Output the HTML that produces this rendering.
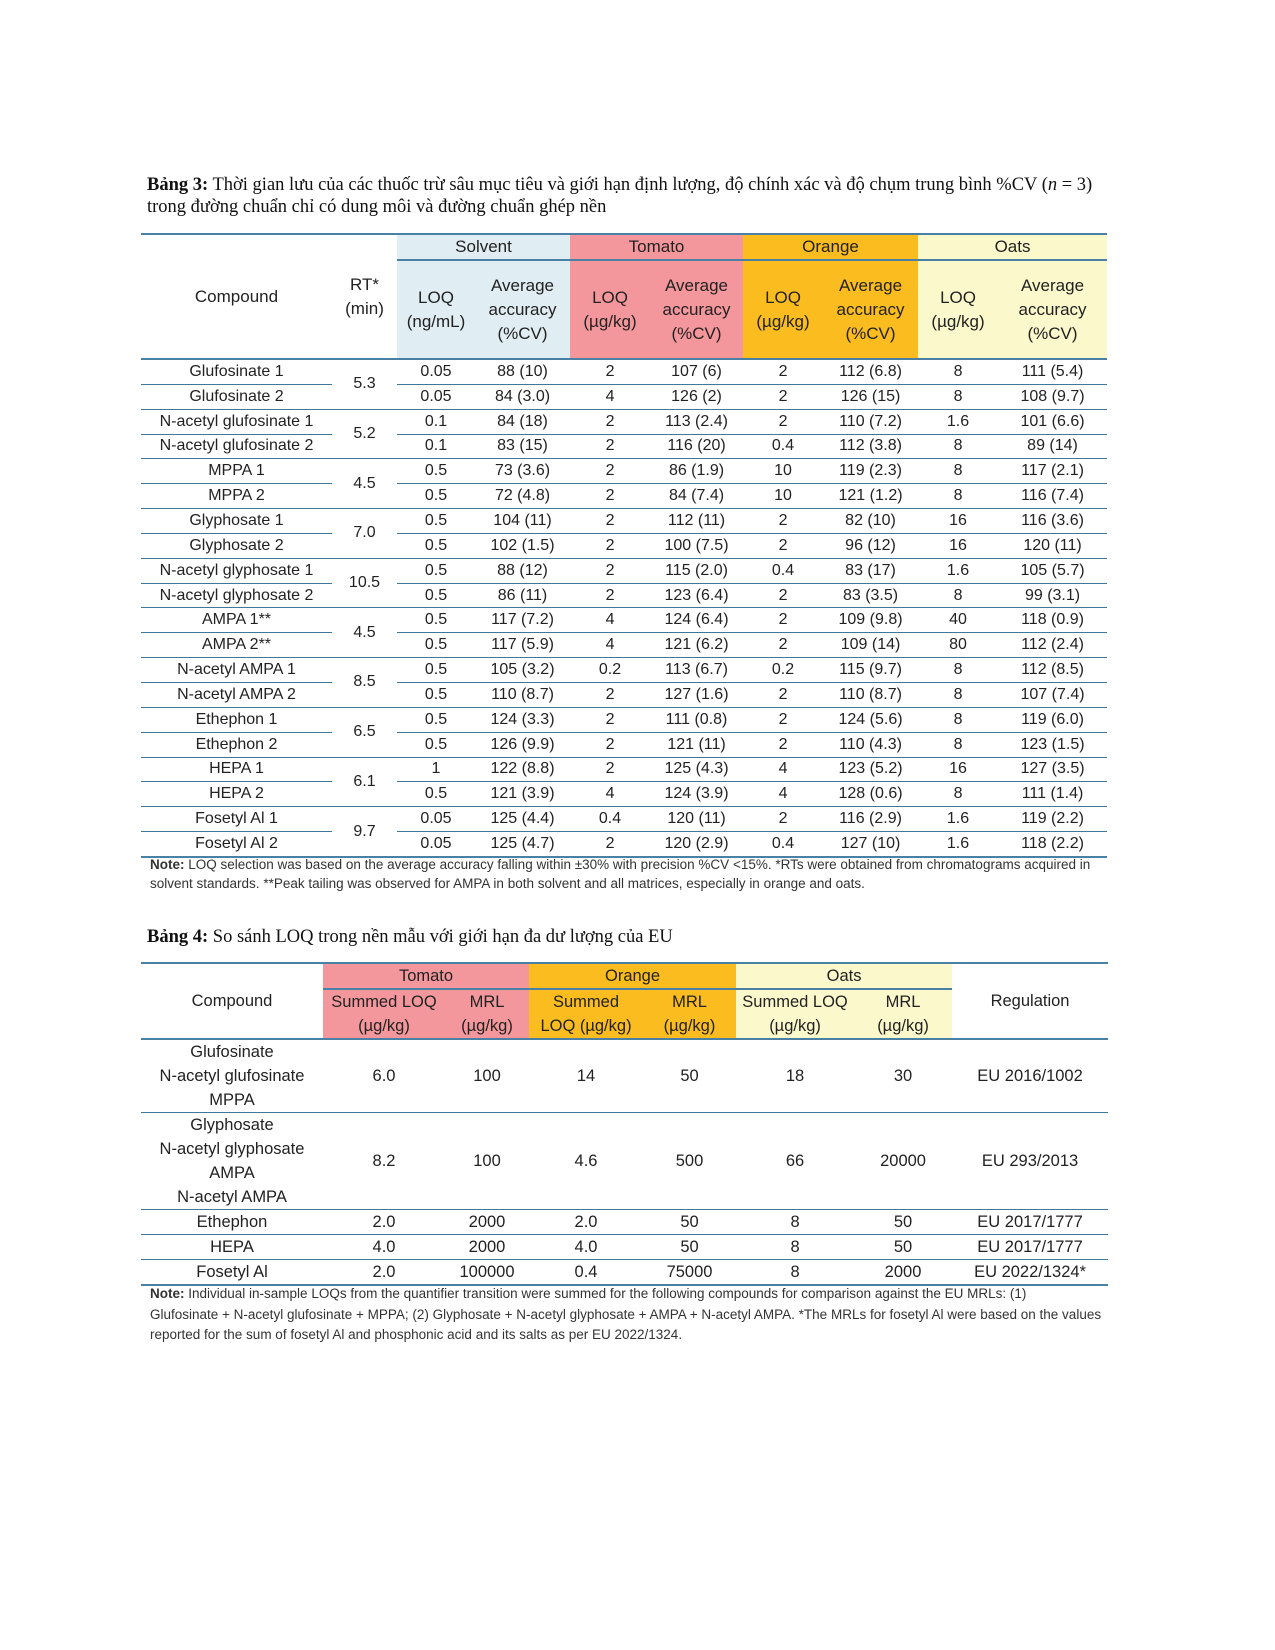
<!DOCTYPE html>
<html><head><meta charset="utf-8">
<style>
body{margin:0;background:#fff;width:1275px;height:1650px;position:relative;font-family:"Liberation Sans",sans-serif;color:#222;}
.cap{position:absolute;left:147px;font-family:"Liberation Serif",serif;font-size:18.5px;line-height:22px;color:#111;}
table{position:absolute;border-collapse:collapse;table-layout:fixed;font-size:16px;}
td{padding:0;text-align:center;vertical-align:middle;white-space:nowrap;overflow:hidden;}
.t3 td{height:23.85px;border-bottom:1px solid #3f7898;line-height:20px;}
.s{background:#e0edf3}.t{background:#f4979c}.o{background:#fbbc1f}.a{background:#fbf8cc}
.top{border-top:2.5px solid #4a80a3}
.note{position:absolute;left:150px;font-size:13.5px;line-height:19px;color:#333;white-space:nowrap;}
.t4 td{border-bottom:1.5px solid #3f7898;line-height:24px;}
</style></head><body>
<div class="cap" style="top:174px"><b>Bảng 3:</b> Thời gian lưu của các thuốc trừ sâu mục tiêu và giới hạn định lượng, độ chính xác và độ chụm trung bình %CV (<i>n</i> = 3)<br>trong đường chuẩn chỉ có dung môi và đường chuẩn ghép nền</div>

<table class="t3" style="left:141px;top:233px;width:966px">
<colgroup><col style="width:191px"><col style="width:65px"><col style="width:78px"><col style="width:95px"><col style="width:80px"><col style="width:93px"><col style="width:80px"><col style="width:95px"><col style="width:80px"><col style="width:109px"></colgroup>
<tr class="top"><td rowspan="2" style="border-bottom:2px solid #4a80a3;font-size:17px">Compound</td><td rowspan="2" style="border-bottom:2px solid #4a80a3;font-size:17px;line-height:24px">RT*<br>(min)</td>
<td colspan="2" class="s" style="height:24px;border-bottom:2.5px solid #4a80a3;font-size:17px">Solvent</td><td colspan="2" class="t" style="border-bottom:2.5px solid #4a80a3;font-size:17px">Tomato</td><td colspan="2" class="o" style="border-bottom:2.5px solid #4a80a3;font-size:17px">Orange</td><td colspan="2" class="a" style="border-bottom:2.5px solid #4a80a3;font-size:17px">Oats</td></tr>
<tr style="font-size:17px;line-height:24px"><td class="s" style="height:97px;border-bottom:2px solid #4a80a3;line-height:24px">LOQ<br>(ng/mL)</td><td class="s" style="border-bottom:2px solid #4a80a3;line-height:24px">Average<br>accuracy<br>(%CV)</td>
<td class="t" style="border-bottom:2px solid #4a80a3;line-height:24px">LOQ<br>(µg/kg)</td><td class="t" style="border-bottom:2px solid #4a80a3;line-height:24px">Average<br>accuracy<br>(%CV)</td>
<td class="o" style="border-bottom:2px solid #4a80a3;line-height:24px">LOQ<br>(µg/kg)</td><td class="o" style="border-bottom:2px solid #4a80a3;line-height:24px">Average<br>accuracy<br>(%CV)</td>
<td class="a" style="border-bottom:2px solid #4a80a3;line-height:24px">LOQ<br>(µg/kg)</td><td class="a" style="border-bottom:2px solid #4a80a3;line-height:24px">Average<br>accuracy<br>(%CV)</td></tr>
<tr><td>Glufosinate 1</td><td rowspan="2">5.3</td><td>0.05</td><td>88 (10)</td><td>2</td><td>107 (6)</td><td>2</td><td>112 (6.8)</td><td>8</td><td>111 (5.4)</td></tr>
<tr><td>Glufosinate 2</td><td>0.05</td><td>84 (3.0)</td><td>4</td><td>126 (2)</td><td>2</td><td>126 (15)</td><td>8</td><td>108 (9.7)</td></tr>
<tr><td>N-acetyl glufosinate 1</td><td rowspan="2">5.2</td><td>0.1</td><td>84 (18)</td><td>2</td><td>113 (2.4)</td><td>2</td><td>110 (7.2)</td><td>1.6</td><td>101 (6.6)</td></tr>
<tr><td>N-acetyl glufosinate 2</td><td>0.1</td><td>83 (15)</td><td>2</td><td>116 (20)</td><td>0.4</td><td>112 (3.8)</td><td>8</td><td>89 (14)</td></tr>
<tr><td>MPPA 1</td><td rowspan="2">4.5</td><td>0.5</td><td>73 (3.6)</td><td>2</td><td>86 (1.9)</td><td>10</td><td>119 (2.3)</td><td>8</td><td>117 (2.1)</td></tr>
<tr><td>MPPA 2</td><td>0.5</td><td>72 (4.8)</td><td>2</td><td>84 (7.4)</td><td>10</td><td>121 (1.2)</td><td>8</td><td>116 (7.4)</td></tr>
<tr><td>Glyphosate 1</td><td rowspan="2">7.0</td><td>0.5</td><td>104 (11)</td><td>2</td><td>112 (11)</td><td>2</td><td>82 (10)</td><td>16</td><td>116 (3.6)</td></tr>
<tr><td>Glyphosate 2</td><td>0.5</td><td>102 (1.5)</td><td>2</td><td>100 (7.5)</td><td>2</td><td>96 (12)</td><td>16</td><td>120 (11)</td></tr>
<tr><td>N-acetyl glyphosate 1</td><td rowspan="2">10.5</td><td>0.5</td><td>88 (12)</td><td>2</td><td>115 (2.0)</td><td>0.4</td><td>83 (17)</td><td>1.6</td><td>105 (5.7)</td></tr>
<tr><td>N-acetyl glyphosate 2</td><td>0.5</td><td>86 (11)</td><td>2</td><td>123 (6.4)</td><td>2</td><td>83 (3.5)</td><td>8</td><td>99 (3.1)</td></tr>
<tr><td>AMPA 1**</td><td rowspan="2">4.5</td><td>0.5</td><td>117 (7.2)</td><td>4</td><td>124 (6.4)</td><td>2</td><td>109 (9.8)</td><td>40</td><td>118 (0.9)</td></tr>
<tr><td>AMPA 2**</td><td>0.5</td><td>117 (5.9)</td><td>4</td><td>121 (6.2)</td><td>2</td><td>109 (14)</td><td>80</td><td>112 (2.4)</td></tr>
<tr><td>N-acetyl AMPA 1</td><td rowspan="2">8.5</td><td>0.5</td><td>105 (3.2)</td><td>0.2</td><td>113 (6.7)</td><td>0.2</td><td>115 (9.7)</td><td>8</td><td>112 (8.5)</td></tr>
<tr><td>N-acetyl AMPA 2</td><td>0.5</td><td>110 (8.7)</td><td>2</td><td>127 (1.6)</td><td>2</td><td>110 (8.7)</td><td>8</td><td>107 (7.4)</td></tr>
<tr><td>Ethephon 1</td><td rowspan="2">6.5</td><td>0.5</td><td>124 (3.3)</td><td>2</td><td>111 (0.8)</td><td>2</td><td>124 (5.6)</td><td>8</td><td>119 (6.0)</td></tr>
<tr><td>Ethephon 2</td><td>0.5</td><td>126 (9.9)</td><td>2</td><td>121 (11)</td><td>2</td><td>110 (4.3)</td><td>8</td><td>123 (1.5)</td></tr>
<tr><td>HEPA 1</td><td rowspan="2">6.1</td><td>1</td><td>122 (8.8)</td><td>2</td><td>125 (4.3)</td><td>4</td><td>123 (5.2)</td><td>16</td><td>127 (3.5)</td></tr>
<tr><td>HEPA 2</td><td>0.5</td><td>121 (3.9)</td><td>4</td><td>124 (3.9)</td><td>4</td><td>128 (0.6)</td><td>8</td><td>111 (1.4)</td></tr>
<tr><td>Fosetyl Al 1</td><td rowspan="2" style="border-bottom:2px solid #4a80a3">9.7</td><td>0.05</td><td>125 (4.4)</td><td>0.4</td><td>120 (11)</td><td>2</td><td>116 (2.9)</td><td>1.6</td><td>119 (2.2)</td></tr>
<tr style="border-bottom:2px solid #4a80a3"><td>Fosetyl Al 2</td><td>0.05</td><td>125 (4.7)</td><td>2</td><td>120 (2.9)</td><td>0.4</td><td>127 (10)</td><td>1.6</td><td>118 (2.2)</td></tr>
</table>
<div class="note" style="top:855px"><b>Note:</b> LOQ selection was based on the average accuracy falling within ±30% with precision %CV &lt;15%. *RTs were obtained from chromatograms acquired in<br>solvent standards. **Peak tailing was observed for AMPA in both solvent and all matrices, especially in orange and oats.</div>

<div class="cap" style="top:926px"><b>Bảng 4:</b> So sánh LOQ trong nền mẫu với giới hạn đa dư lượng của EU</div>

<table class="t4" style="left:141px;top:962px;width:967px;font-size:16.5px">
<colgroup><col style="width:182px"><col style="width:122px"><col style="width:84px"><col style="width:114px"><col style="width:93px"><col style="width:118px"><col style="width:98px"><col style="width:156px"></colgroup>
<tr class="top"><td rowspan="2" style="border-bottom:2px solid #4a80a3">Compound</td><td colspan="2" class="t" style="height:24px;border-bottom:2.5px solid #4a80a3">Tomato</td><td colspan="2" class="o" style="border-bottom:2.5px solid #4a80a3">Orange</td><td colspan="2" class="a" style="border-bottom:2.5px solid #4a80a3">Oats</td><td rowspan="2" style="border-bottom:2px solid #4a80a3">Regulation</td></tr>
<tr><td class="t" style="height:48px;border-bottom:2px solid #4a80a3">Summed LOQ<br>(µg/kg)</td><td class="t" style="border-bottom:2px solid #4a80a3">MRL<br>(µg/kg)</td><td class="o" style="border-bottom:2px solid #4a80a3">Summed<br>LOQ (µg/kg)</td><td class="o" style="border-bottom:2px solid #4a80a3">MRL<br>(µg/kg)</td><td class="a" style="border-bottom:2px solid #4a80a3">Summed LOQ<br>(µg/kg)</td><td class="a" style="border-bottom:2px solid #4a80a3">MRL<br>(µg/kg)</td></tr>
<tr><td style="height:71px">Glufosinate<br>N-acetyl glufosinate<br>MPPA</td><td>6.0</td><td>100</td><td>14</td><td>50</td><td>18</td><td>30</td><td>EU 2016/1002</td></tr>
<tr><td style="height:96px">Glyphosate<br>N-acetyl glyphosate<br>AMPA<br>N-acetyl AMPA</td><td>8.2</td><td>100</td><td>4.6</td><td>500</td><td>66</td><td>20000</td><td>EU 293/2013</td></tr>
<tr><td style="height:23.5px">Ethephon</td><td>2.0</td><td>2000</td><td>2.0</td><td>50</td><td>8</td><td>50</td><td>EU 2017/1777</td></tr>
<tr><td style="height:23.5px">HEPA</td><td>4.0</td><td>2000</td><td>4.0</td><td>50</td><td>8</td><td>50</td><td>EU 2017/1777</td></tr>
<tr style="border-bottom:2px solid #4a80a3"><td style="height:22.5px">Fosetyl Al</td><td>2.0</td><td>100000</td><td>0.4</td><td>75000</td><td>8</td><td>2000</td><td>EU 2022/1324*</td></tr>
</table>
<div class="note" style="top:1284px;line-height:20.5px"><b>Note:</b> Individual in-sample LOQs from the quantifier transition were summed for the following compounds for comparison against the EU MRLs: (1)<br>Glufosinate + N-acetyl glufosinate + MPPA; (2) Glyphosate + N-acetyl glyphosate + AMPA + N-acetyl AMPA. *The MRLs for fosetyl Al were based on the values<br>reported for the sum of fosetyl Al and phosphonic acid and its salts as per EU 2022/1324.</div>
</body></html>
